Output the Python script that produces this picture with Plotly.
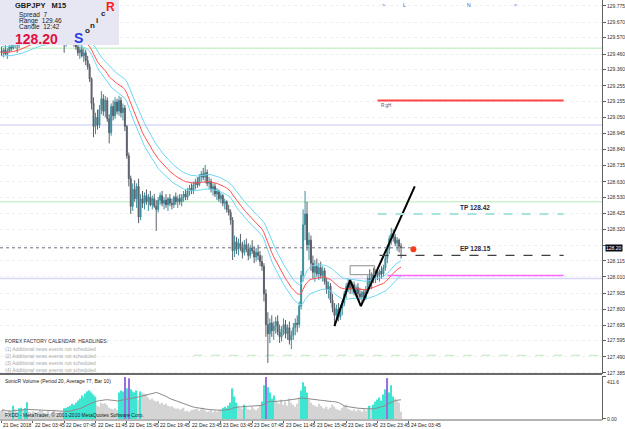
import plotly.graph_objects as go
import pandas as pd

# ---------------- data ----------------
opens = [129.48, 129.47, 129.49, 129.46, 129.48, 129.51, 129.50, 129.53,
         129.55, 129.52, 129.56, 129.58, 129.60, 129.59, 129.62, 129.63, 129.60, 129.61, 129.64, 129.62, 129.60, 129.58,
         129.60, 129.62, 129.61, 129.57, 129.59, 129.58, 129.56, 129.58, 129.60, 129.57, 129.55, 129.53, 129.56, 129.58,
         129.57, 129.55, 129.53,
         129.51, 129.47, 129.49, 129.45, 129.47, 129.42, 129.38, 129.30,
         129.14, 128.99, 129.05, 129.00, 129.10, 129.17, 129.09, 129.16, 129.04, 128.95, 129.12, 129.06, 129.15, 129.09,
         129.16, 129.08, 129.11, 128.99,
         128.80, 128.65, 128.47, 128.58, 128.52, 128.60, 128.40, 128.52,
         128.49, 128.54, 128.50, 128.53, 128.48, 128.52, 128.47, 128.45, 128.51, 128.54, 128.49, 128.51, 128.48, 128.52,
         128.49, 128.48, 128.53, 128.50, 128.52,
         128.50, 128.53, 128.55, 128.53, 128.57, 128.59, 128.57, 128.61, 128.63, 128.61,
         128.66, 128.68, 128.66, 128.69,
         128.62, 128.63, 128.58, 128.60, 128.55, 128.57, 128.52, 128.54, 128.49, 128.50, 128.45, 128.43,
         128.38,
         128.18, 128.24, 128.19, 128.23, 128.20, 128.17, 128.22, 128.19, 128.15, 128.20, 128.18, 128.14, 128.17, 128.15,
         128.11,
         128.08, 127.90, 127.70, 127.64,
         127.71, 127.66, 127.69, 127.72, 127.65, 127.62, 127.67, 127.70, 127.64, 127.68, 127.60, 127.63, 127.68, 127.71,
         127.70,
         127.82, 128.02, 128.35, 128.42, 128.22, 128.25, 128.10, 128.04,
         128.08, 128.03, 128.07, 128.02, 128.05, 127.98, 127.93, 127.95, 127.86,
         127.81, 127.76, 127.80, 127.75, 127.81, 127.84, 127.90, 127.95,
         127.97, 127.93, 127.96, 127.91, 127.94, 127.90, 127.88, 127.91, 127.87,
         127.93, 128.00, 127.98, 128.03, 128.01, 128.04, 128.02, 128.05, 128.03,
         128.07, 128.13, 128.19, 128.26, 128.29, 128.27, 128.23, 128.25, 128.21]

highs = [129.51, 129.50, 129.52, 129.50, 129.53, 129.54, 129.55, 129.57,
         129.58, 129.57, 129.60, 129.62, 129.63, 129.64, 129.66, 129.65, 129.64, 129.66, 129.68, 129.65, 129.63, 129.62,
         129.64, 129.65, 129.63, 129.61, 129.62, 129.61, 129.60, 129.62, 129.63, 129.60, 129.58, 129.58, 129.60, 129.61,
         129.60, 129.58, 129.56,
         129.54, 129.51, 129.52, 129.50, 129.49, 129.45, 129.40, 129.31,
         129.18, 129.08, 129.10, 129.13, 129.22, 129.20, 129.19, 129.18, 129.07, 129.14, 129.16, 129.18, 129.17, 129.19,
         129.18, 129.14, 129.13, 129.00,
         128.82, 128.67, 128.62, 128.64, 128.62, 128.65, 128.55, 128.57,
         128.56, 128.58, 128.55, 128.57, 128.54, 128.55, 128.51, 128.53, 128.56, 128.57, 128.53, 128.55, 128.53, 128.55,
         128.52, 128.54, 128.56, 128.54, 128.55,
         128.55, 128.57, 128.58, 128.59, 128.61, 128.62, 128.63, 128.65, 128.66, 128.68,
         128.70, 128.72, 128.74, 128.71,
         128.66, 128.65, 128.62, 128.62, 128.59, 128.58, 128.56, 128.55, 128.52, 128.51, 128.48, 128.45,
         128.40,
         128.28, 128.27, 128.26, 128.29, 128.24, 128.25, 128.26, 128.23, 128.22, 128.25, 128.21, 128.20, 128.22, 128.18,
         128.15,
         128.10, 127.93, 127.78, 127.74,
         127.76, 127.72, 127.75, 127.76, 127.70, 127.69, 127.74, 127.73, 127.70, 127.72, 127.66, 127.71, 127.74, 127.76,
         127.85,
         128.05, 128.45, 128.57, 128.50, 128.30, 128.28, 128.15, 128.12,
         128.13, 128.10, 128.11, 128.08, 128.07, 128.00, 127.98, 127.97, 127.90,
         127.84, 127.83, 127.84, 127.83, 127.86, 127.92, 127.97, 128.00,
         127.99, 127.98, 127.98, 127.96, 127.97, 127.94, 127.92, 127.93, 127.95,
         128.02, 128.06, 128.04, 128.07, 128.06, 128.07, 128.06, 128.08, 128.09,
         128.15, 128.21, 128.28, 128.33, 128.32, 128.29, 128.27, 128.26, 128.23]

lows = [129.45, 129.44, 129.46, 129.43, 129.47, 129.48, 129.49, 129.50,
        129.47, 129.50, 129.54, 129.55, 129.57, 129.57, 129.59, 129.58, 129.57, 129.59, 129.61, 129.58, 129.56, 129.55,
        129.58, 129.59, 129.56, 129.55, 129.56, 129.54, 129.53, 129.56, 129.55, 129.52, 129.47, 129.51, 129.54, 129.55,
        129.53, 129.51, 129.49,
        129.45, 129.43, 129.44, 129.41, 129.39, 129.36, 129.28, 129.10,
        128.92, 128.94, 128.97, 128.98, 129.07, 129.06, 129.05, 129.02, 128.88, 128.93, 129.03, 129.04, 129.07, 129.06,
        129.05, 129.03, 128.96, 128.78,
        128.60, 128.42, 128.44, 128.50, 128.46, 128.36, 128.38, 128.46,
        128.45, 128.48, 128.44, 128.47, 128.45, 128.46, 128.31, 128.43, 128.48, 128.47, 128.45, 128.46, 128.44, 128.47,
        128.45, 128.46, 128.48, 128.46, 128.48,
        128.47, 128.50, 128.51, 128.51, 128.54, 128.55, 128.55, 128.58, 128.59, 128.60,
        128.63, 128.64, 128.62, 128.60,
        128.58, 128.56, 128.54, 128.53, 128.51, 128.50, 128.49, 128.47, 128.45, 128.43, 128.41, 128.35,
        128.12,
        128.14, 128.16, 128.15, 128.18, 128.13, 128.15, 128.17, 128.12, 128.13, 128.16, 128.10, 128.11, 128.12, 128.08,
        128.05,
        127.85, 127.62, 127.45, 127.58,
        127.62, 127.60, 127.64, 127.63, 127.58, 127.59, 127.63, 127.61, 127.60, 127.57, 127.54, 127.60, 127.63, 127.65,
        127.68,
        127.80, 127.98, 128.25, 128.18, 128.12, 128.05, 128.00, 127.98,
        128.01, 127.99, 128.00, 127.98, 127.96, 127.90, 127.87, 127.84, 127.78,
        127.69, 127.73, 127.72, 127.73, 127.76, 127.82, 127.87, 127.91,
        127.90, 127.90, 127.89, 127.88, 127.88, 127.86, 127.84, 127.85, 127.86,
        127.90, 127.95, 127.93, 127.97, 127.97, 127.99, 127.98, 128.00, 128.01,
        128.05, 128.10, 128.16, 128.22, 128.24, 128.21, 128.18, 128.17, 128.13]

closes = [129.47, 129.49, 129.46, 129.48, 129.51, 129.50, 129.53, 129.55,
          129.52, 129.56, 129.58, 129.60, 129.59, 129.62, 129.63, 129.60, 129.61, 129.64, 129.62, 129.60, 129.58, 129.60,
          129.62, 129.61, 129.57, 129.59, 129.58, 129.56, 129.58, 129.60, 129.57, 129.55, 129.53, 129.56, 129.58, 129.57,
          129.55, 129.53, 129.51,
          129.47, 129.49, 129.45, 129.47, 129.42, 129.38, 129.30, 129.14,
          128.99, 129.05, 129.00, 129.10, 129.17, 129.09, 129.16, 129.04, 128.95, 129.12, 129.06, 129.15, 129.09, 129.16,
          129.08, 129.11, 128.99, 128.80,
          128.65, 128.47, 128.58, 128.52, 128.60, 128.40, 128.52, 128.49,
          128.54, 128.50, 128.53, 128.48, 128.52, 128.47, 128.45, 128.51, 128.54, 128.49, 128.51, 128.48, 128.52, 128.49,
          128.48, 128.53, 128.50, 128.52, 128.50,
          128.53, 128.55, 128.53, 128.57, 128.59, 128.57, 128.61, 128.63, 128.61, 128.66,
          128.68, 128.66, 128.69, 128.62,
          128.63, 128.58, 128.60, 128.55, 128.57, 128.52, 128.54, 128.49, 128.50, 128.45, 128.43, 128.38,
          128.18,
          128.24, 128.19, 128.23, 128.20, 128.17, 128.22, 128.19, 128.15, 128.20, 128.18, 128.14, 128.17, 128.15, 128.11,
          128.08,
          127.90, 127.70, 127.64, 127.71,
          127.66, 127.69, 127.72, 127.65, 127.62, 127.67, 127.70, 127.64, 127.68, 127.60, 127.63, 127.68, 127.71, 127.70,
          127.82,
          128.02, 128.35, 128.42, 128.22, 128.25, 128.10, 128.04, 128.08,
          128.03, 128.07, 128.02, 128.05, 127.98, 127.93, 127.95, 127.86, 127.81,
          127.76, 127.80, 127.75, 127.81, 127.84, 127.90, 127.95, 127.97,
          127.93, 127.96, 127.91, 127.94, 127.90, 127.88, 127.91, 127.87, 127.93,
          128.00, 127.98, 128.03, 128.01, 128.04, 128.02, 128.05, 128.03, 128.07,
          128.13, 128.19, 128.26, 128.29, 128.27, 128.23, 128.25, 128.21, 128.20]

volumes = [80, 95, 70, 60, 85, 75, 130, 90, 70, 105, 110, 100, 108, 165, 70, 60, 75, 65, 55, 70,
           85, 80, 55, 60, 85, 50, 65, 90, 60, 55, 70, 65, 105, 110, 120, 130, 150, 140, 160, 180,
           200, 230, 210, 250, 270, 280, 260, 240, 220, 130, 120, 160, 150, 155, 140, 110, 100, 95, 105, 90,
           260, 280, 270, 411, 300, 400, 290, 270, 260, 280, 190, 270, 260, 250, 240,
           210, 190, 200, 180, 170, 175, 150, 160, 140, 150, 130, 120, 125, 110, 100, 105, 90, 95, 110,
           75, 80, 70, 85, 90, 95, 100,
           80, 95, 110, 85, 70, 75, 90, 65, 80, 70,
           85, 95, 110, 120, 105, 130, 160, 300,
           220, 160, 130, 110, 100, 140, 120, 95, 90, 120, 100, 85, 105, 130, 170,
           330, 411, 310, 260, 200, 230, 180, 160,
           150, 190, 140, 170, 130, 200, 160, 140, 120, 150, 210,
           280, 360, 320, 260, 190, 160, 140, 130, 120, 150, 130, 110, 100,
           120, 95, 110, 140, 120, 100, 90, 85, 110, 130, 140, 100,
           90, 80, 95, 75, 90, 85, 70, 95, 80, 110, 130, 100, 140,
           170, 190, 210, 180, 240, 290, 400, 260, 330, 220, 200, 180, 160, 70]

bars = list(range(len(closes)))

time_label_bars = [0, 16, 32, 48, 64, 80, 96, 112, 128, 144, 160, 176, 192, 208]
time_labels = ["21 Dec 2018", "22 Dec 03:45", "22 Dec 07:45", "22 Dec 11:45", "22 Dec 15:45",
               "22 Dec 19:45", "22 Dec 23:45", "23 Dec 03:45", "23 Dec 07:45", "23 Dec 11:45",
               "23 Dec 15:45", "23 Dec 19:45", "23 Dec 23:45", "24 Dec 03:45"]

price_ticks = [129.775, 129.670, 129.570, 129.460, 129.360, 129.255, 129.155, 129.050, 128.945,
               128.840, 128.735, 128.630, 128.530, 128.425, 128.320, 128.215, 128.115, 128.010,
               127.905, 127.800, 127.695, 127.595, 127.490, 127.385]
# the 128.215 label sits under the current-price tag, as in the terminal
price_tick_text = ["" if abs(v - 128.215) < 1e-6 else "%.3f" % v for v in price_ticks]

vol_top = 411.6
vol_top_text = "411.6"
vol_zero_text = "0.00"

current_price = 128.20
tp_level = 128.42
ep_level = 128.15
rgh_level = 129.16
magenta_level = 128.02
whole_levels = [129.00, 128.00]
half_levels = [129.50, 128.50]
low_half_level = 127.50

zigzag_bars = [170, 178, 183.5, 211]
zigzag_prices = [127.69, 127.99, 127.82, 128.60]

box_bars = [178, 190.5]
box_prices = [128.025, 128.083]

# ---------------- indicators ----------------
s_close = pd.Series(closes)
ema_c = s_close.ewm(span=34, adjust=False).mean()
ema_h = pd.Series(highs).ewm(span=34, adjust=False).mean()
ema_l = pd.Series(lows).ewm(span=34, adjust=False).mean()
vol_s = pd.Series(volumes, dtype=float)
vol_avg = vol_s.rolling(20, min_periods=1).mean()
vmax = vol_s.max()
vol_colors = []
for v, a in zip(volumes, vol_avg):
    if v >= 0.95 * vmax:
        vol_colors.append("#9b6fe0")
    elif v > 1.15 * a:
        vol_colors.append("#3ee6d2")
    else:
        vol_colors.append("#d4d4d4")

# ---------------- geometry helpers ----------------
PW, PH = 607.0, 420.0
def xp(px):
    return px / PW
def yp(py):
    return 1 - py / PH

FONT = "Liberation Sans"
XR = [-0.76, 306.6]

fig = go.Figure()

fig.add_trace(go.Candlestick(
    x=bars, open=opens, high=highs, low=lows, close=closes,
    increasing=dict(line=dict(color="#3a8fa0", width=1), fillcolor="#3a8fa0"),
    decreasing=dict(line=dict(color="#5a5f68", width=1), fillcolor="#5a5f68"),
    whiskerwidth=0, xaxis="x", yaxis="y", showlegend=False, hoverinfo="skip"))

fig.add_trace(go.Scatter(x=bars, y=ema_h, mode="lines", line=dict(color="#6cd8f2", width=1),
                         xaxis="x", yaxis="y", showlegend=False, hoverinfo="skip"))
fig.add_trace(go.Scatter(x=bars, y=ema_l, mode="lines", line=dict(color="#6cd8f2", width=1),
                         xaxis="x", yaxis="y", showlegend=False, hoverinfo="skip"))
fig.add_trace(go.Scatter(x=bars, y=ema_c, mode="lines", line=dict(color="#ff5050", width=1),
                         xaxis="x", yaxis="y", showlegend=False, hoverinfo="skip"))

# zigzag trend lines
fig.add_trace(go.Scatter(x=zigzag_bars, y=zigzag_prices, mode="lines",
                         line=dict(color="#000000", width=2), xaxis="x", yaxis="y",
                         showlegend=False, hoverinfo="skip"))
# red dot
fig.add_trace(go.Scatter(x=[210.3], y=[128.19], mode="markers",
                         marker=dict(color="#ff3a1a", size=6), xaxis="x", yaxis="y",
                         showlegend=False, hoverinfo="skip"))

# volume
fig.add_trace(go.Bar(x=bars, y=volumes, marker=dict(color=vol_colors, line=dict(width=0)),
                     width=0.75, xaxis="x", yaxis="y2", showlegend=False, hoverinfo="skip"))
fig.add_trace(go.Scatter(x=bars, y=vol_avg, mode="lines", line=dict(color="#8a8a8a", width=1),
                         xaxis="x", yaxis="y2", showlegend=False, hoverinfo="skip"))

shapes = []
for lv in whole_levels:
    shapes.append(dict(type="line", xref="paper", yref="y", x0=0, x1=1, y0=lv, y1=lv,
                       line=dict(color="#d8d8f6", width=1.5), layer="below"))
for lv in half_levels:
    shapes.append(dict(type="line", xref="paper", yref="y", x0=0, x1=1, y0=lv, y1=lv,
                       line=dict(color="#ccf2cc", width=1.5), layer="below"))
shapes.append(dict(type="line", xref="x", yref="y", x0=98, x1=XR[1], y0=low_half_level, y1=low_half_level,
                   line=dict(color="#bce9bc", width=1, dash="dash"), layer="below"))
shapes.append(dict(type="line", xref="x", yref="y", x0=XR[0], x1=209, y0=current_price, y1=current_price,
                   line=dict(color="#707080", width=1, dash="dot")))
shapes.append(dict(type="line", xref="x", yref="y", x0=192, x1=287, y0=rgh_level, y1=rgh_level,
                   line=dict(color="#ff4545", width=2)))
shapes.append(dict(type="line", xref="x", yref="y", x0=192, x1=287, y0=tp_level, y1=tp_level,
                   line=dict(color="#a8e4dc", width=2, dash="dash")))
shapes.append(dict(type="line", xref="x", yref="y", x0=193, x1=287, y0=ep_level, y1=ep_level,
                   line=dict(color="#404040", width=1.2, dash="dash")))
shapes.append(dict(type="line", xref="x", yref="y", x0=197, x1=287, y0=magenta_level, y1=magenta_level,
                   line=dict(color="#ff66ff", width=1.5)))
shapes.append(dict(type="rect", xref="x", yref="y", x0=box_bars[0], x1=box_bars[1],
                   y0=box_prices[0], y1=box_prices[1], line=dict(color="#8c8c8c", width=1)))
shapes.append(dict(type="rect", xref="paper", yref="paper", x0=0, x1=xp(120), y0=yp(45), y1=1,
                   fillcolor="#e7e7f3", line=dict(color="#e7e7f3", width=0)))
shapes.append(dict(type="line", xref="paper", yref="paper", x0=0, x1=1, y0=yp(374), y1=yp(374),
                   line=dict(color="#6a6a6a", width=2)))
shapes.append(dict(type="line", xref="paper", yref="paper", x0=0, x1=1, y0=0, y1=0,
                   line=dict(color="#6a6a6a", width=1)))

ann = []
def txt(px, py, s, size=5, color="#303030", bold=False, anchor="left", family=FONT):
    ann.append(dict(x=xp(px), y=yp(py), xref="paper", yref="paper", text=("<b>%s</b>" % s) if bold else s,
                    showarrow=False, xanchor=anchor, yanchor="middle",
                    font=dict(size=size, color=color, family=family)))

txt(13, 6, "GBPJPY   M15", 7.5, "#1a1a1a", True)
txt(17, 15, "Spread  7", 6.5, "#222222")
txt(17, 21, "Range  129.46", 6.5, "#222222")
txt(17, 27, "Candle  12:42", 6.5, "#222222")
txt(13, 39, "128.20", 14, "#e01040", True)
txt(73, 38, "S", 14, "#2a3de0", True)
txt(84, 31, "o", 8, "#222222", True)
txt(89, 25, "n", 8, "#222222", True)
txt(95, 20, "i", 8, "#222222", True)
txt(100, 14, "c", 8, "#222222", True)
txt(105, 7, "R", 12, "#ff1a1a", True)

txt(462, 207, "TP 128.42", 6.5, "#2a2a3a", True)
txt(462, 248, "EP 128.15", 6.5, "#2a2a3a", True)
txt(382, 105, "R:gH", 4.5, "#505070")

txt(383, 5, "&gt;", 5, "#5050c0")
txt(404, 5, "L", 5, "#5050c0")
txt(469, 5, "N", 5, "#5050c0")
txt(516, 5, "&lt;", 5, "#5050c0")

txt(3, 341, "FOREX FACTORY CALENDAR  HEADLINES:", 5, "#303040")
for i in range(4):
    txt(3, 349 + 7 * i, "(%d) Additional news events not scheduled" % (i + 1), 5, "#a8a8a8")

txt(3, 381, "SonicR Volume (Period 20, Average 77, Bar 10)", 5, "#202020")
txt(3, 415, "FXDD - MetaTrader, \u00a9 2001-2010 MetaQuotes Software Corp.", 5, "#202020")

for b, lab in zip(time_label_bars, time_labels):
    ann.append(dict(x=b, y=yp(424.5), xref="x", yref="paper", text=lab, showarrow=False,
                    xanchor="left", yanchor="middle", font=dict(size=5, color="#202020", family=FONT)))

ann.append(dict(x=1.0, y=current_price, xref="paper", yref="y", text="128.20", showarrow=False,
                xanchor="left", yanchor="middle", xshift=3, bgcolor="#0a0a1a", borderpad=0,
                font=dict(size=5, color="#ffffff", family=FONT)))
# volume scale labels
ann.append(dict(x=1.0, y=vol_top, xref="paper", yref="y2", text=vol_top_text, showarrow=False,
                xanchor="left", yanchor="top", xshift=3, font=dict(size=5, color="#303030", family=FONT)))
ann.append(dict(x=1.0, y=0, xref="paper", yref="y2", text=vol_zero_text, showarrow=False,
                xanchor="left", yanchor="middle", xshift=3, font=dict(size=5, color="#303030", family=FONT)))

fig.update_layout(
    width=625, height=429,
    margin=dict(l=0, r=18, t=0, b=9),
    paper_bgcolor="white", plot_bgcolor="white",
    showlegend=False,
    bargap=0.2,
    xaxis=dict(range=XR, domain=[0, 1], anchor="y2", rangeslider=dict(visible=False),
               showgrid=False, zeroline=False, showticklabels=False,
               tickvals=time_label_bars, ticks="outside", ticklen=2, tickcolor="#606060",
               showline=False),
    yaxis=dict(domain=[yp(374), 1], range=[127.378, 129.814], side="right",
               tickvals=price_ticks, ticktext=price_tick_text, ticks="outside", ticklen=3,
               tickcolor="#606060", tickfont=dict(size=5, color="#303030", family=FONT),
               showline=True, linecolor="#606060", linewidth=1,
               showgrid=True, gridcolor="#eeeef3", griddash="dot", gridwidth=1, zeroline=False),
    yaxis2=dict(domain=[0, yp(376)], range=[-10, 421], side="right",
                tickvals=[0, vol_top], ticktext=["", ""], ticks="outside", ticklen=3,
                tickcolor="#606060", showline=True, linecolor="#606060", linewidth=1,
                showgrid=False, zeroline=False),
    shapes=shapes,
    annotations=ann,
)

fig.write_html("out.html")
